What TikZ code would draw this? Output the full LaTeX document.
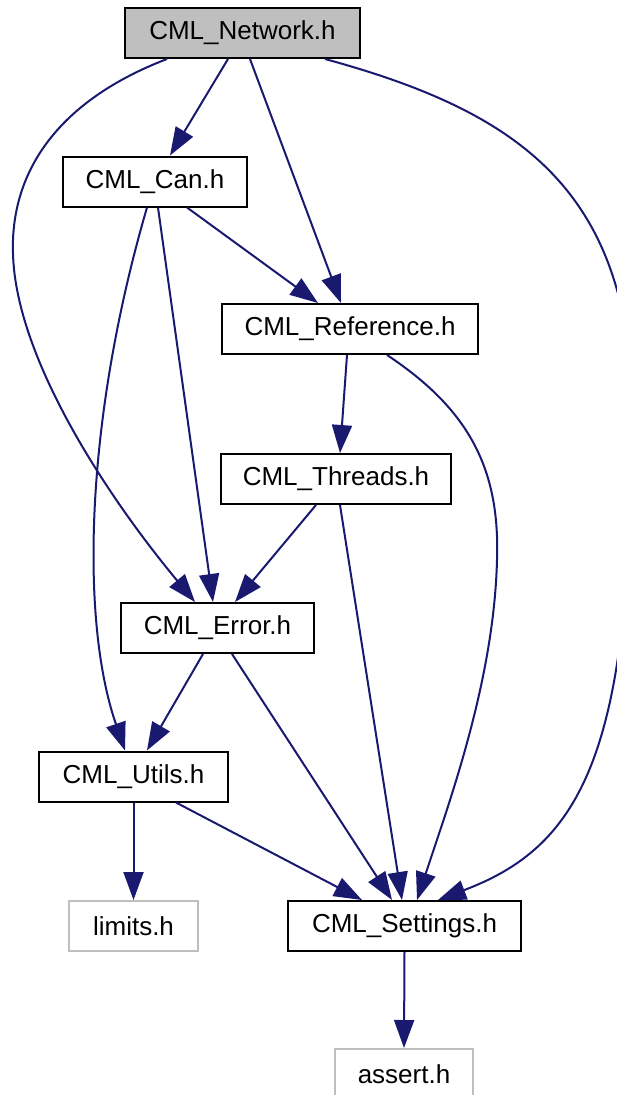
\documentclass[tikz,border=0pt]{standalone}
\usepackage{fontspec}
\setmainfont{Liberation Sans}
\usetikzlibrary{arrows.meta}
\definecolor{edgeblue}{RGB}{25,25,112}
\definecolor{boxgray}{RGB}{191,191,191}
\begin{document}
\begin{tikzpicture}[x=1pt, y=-1pt,
	file/.style={draw=black, line width=2pt, minimum height=50pt, inner sep=0pt,
		font=\fontsize{26}{30}\selectfont},
	sysfile/.style={file, draw=boxgray},
	dep/.style={color=edgeblue, line width=2pt, -{Triangle[length=28pt,width=20pt]}}]
	\useasboundingbox (0,0) rectangle (616,1095);
	% header boxes
	\node[file, fill=boxgray, minimum width=235pt] (net) at (242.5,33) {CML\_Network.h};
	\node[file, minimum width=184pt] (can) at (155,181.5) {CML\_Can.h};
	\node[file, minimum width=256pt] (ref) at (350,329) {CML\_Reference.h};
	\node[file, minimum width=230pt] (thr) at (336,479) {CML\_Threads.h};
	\node[file, minimum width=193pt] (err) at (217.5,628) {CML\_Error.h};
	\node[file, minimum width=189pt] (utl) at (133.5,776.5) {CML\_Utils.h};
	\node[sysfile, minimum width=129pt] (lim) at (133.5,926) {limits.h};
	\node[file, minimum width=233pt] (set) at (404.5,926) {CML\_Settings.h};
	\node[sysfile, minimum width=138pt] (ast) at (404,1074) {assert.h};
	% includes
	\draw[dep] ([xshift=-14.5pt]net.south) -- ([xshift=15pt]can.north);
	\draw[dep] ([xshift=7.5pt]net.south) -- ([xshift=-9pt]ref.north);
	\draw[dep] ([xshift=-75.5pt]net.south) .. controls (60,100) and (10,170) .. (13,254)
		.. controls (16,360) and (110,500) .. ([xshift=-22.5pt]err.north);
	\draw[dep] ([xshift=82.5pt]net.south) .. controls (530,115) and (650,200) .. (630,470)
		.. controls (628,770) and (570,850) .. ([xshift=33.5pt]set.north);
	\draw[dep] ([xshift=32pt]can.south) -- ([xshift=-32pt]ref.north);
	\draw[dep] ([xshift=3pt]can.south) -- ([xshift=-4.5pt]err.north);
	\draw[dep] ([xshift=-8pt]can.south) .. controls (85,420) and (80,620) .. ([xshift=-8.5pt]utl.north);
	\draw[dep] ([xshift=-3pt]ref.south) -- ([xshift=4pt]thr.north);
	\draw[dep] ([xshift=37pt]ref.south) .. controls (470,410) and (500,470) .. (497,560)
		.. controls (494,680) and (450,800) .. ([xshift=12.5pt]set.north);
	\draw[dep] ([xshift=-20pt]thr.south) -- ([xshift=17.5pt]err.north);
	\draw[dep] ([xshift=4pt]thr.south) -- ([xshift=-2.5pt]set.north);
	\draw[dep] ([xshift=-14.5pt]err.south) -- ([xshift=13.5pt]utl.north);
	\draw[dep] ([xshift=14.5pt]err.south) -- ([xshift=-12.5pt]set.north);
	\draw[dep] (utl.south) -- (lim.north);
	\draw[dep] ([xshift=42.5pt]utl.south) -- ([xshift=-42.5pt]set.north);
	\draw[dep] (set.south) -- (ast.north);
\end{tikzpicture}
\end{document}
